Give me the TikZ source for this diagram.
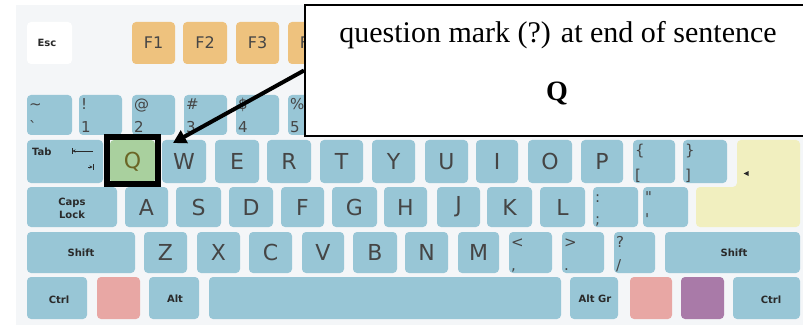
\documentclass[tikz,border=0pt]{standalone}
\usepackage{fontspec}
\newfontfamily\kfont{DejaVu Sans}
\newfontfamily\cfont{Liberation Serif}
\usetikzlibrary{arrows.meta}
\definecolor{kbbg}{HTML}{F4F6F8}
\definecolor{keyblue}{HTML}{98C6D6}
\definecolor{fkey}{HTML}{EEC27E}
\definecolor{pinkkey}{HTML}{E8A7A4}
\definecolor{purplekey}{HTML}{A97AA8}
\definecolor{yellowkey}{HTML}{F1EFBF}
\definecolor{qgreen}{HTML}{A9D09E}
\definecolor{qtext}{HTML}{6B6626}
\definecolor{keytext}{HTML}{454545}
\definecolor{keydark}{HTML}{2A2A2A}
\tikzset{
  keybox/.style={fill=keyblue, rounded corners=4pt, inner sep=0pt, outer sep=0pt},
  letterlbl/.style={font=\kfont\fontsize{22}{22}\selectfont, text=keytext, inner sep=0pt},
  duallbl/.style={font=\kfont\fontsize{15}{15}\selectfont, text=keytext, inner sep=0pt, anchor=base west},
  namelbl/.style={font=\kfont\bfseries\fontsize{10}{13}\selectfont, text=keydark, inner sep=0pt, align=center},
  flbl/.style={font=\kfont\fontsize{16}{16}\selectfont, text=keytext, inner sep=0pt},
  callouttext/.style={font=\cfont\fontsize{30}{30}\selectfont, text=black, inner sep=0pt, anchor=base},
}
\newcommand\kbkey[6]{\node[keybox,#6,minimum width={(#4)-(#2)},minimum height={(#5)-(#3)}] (#1) at ({((#2)+(#4))/2},{((#3)+(#5))/2}) {};}
\newcommand\kblet[6]{\kbkey{#1}{#2}{#3}{#4}{#5}{}\node[letterlbl] (#1-l) at (#1) {#6};}
\newcommand\kbdual[7]{\kbkey{#1}{#2}{#3}{#4}{#5}{}%
  \node[duallbl] (#1-t) at ([xshift=2pt,yshift=-15pt]#1.north west) {#6};%
  \node[duallbl] (#1-b) at ([xshift=2pt,yshift=3pt]#1.south west) {#7};}
\begin{document}
\begin{tikzpicture}[x=1pt,y=-1pt]
\useasboundingbox (0,0) rectangle (803,326);
\fill[kbbg] (16,5) rectangle (803,325);
% F row
\kbkey{kesc}{27}{22}{72}{64}{fill=white}
\node[namelbl] (kesc-l) at (47,43) {Esc};
\kbkey{kf1}{132}{22}{175}{64}{fill=fkey}\node[flbl] (kf1-l) at (kf1) {F1};
\kbkey{kf2}{183}{22}{227}{64}{fill=fkey}\node[flbl] (kf2-l) at (kf2) {F2};
\kbkey{kf3}{236}{22}{279}{64}{fill=fkey}\node[flbl] (kf3-l) at (kf3) {F3};
\kbkey{kf4}{288}{22}{331}{64}{fill=fkey}\node[flbl] (kf4-l) at (kf4) {F4};
% number row
\kbdual{kgrave}{27}{95}{72}{135}{\textasciitilde}{`}
\kbdual{k1}{79}{95}{122}{135}{!}{1}
\kbdual{k2}{132}{95}{175}{135}{@}{2}
\kbdual{k3}{184}{95}{227}{135}{\#}{3}
\kbdual{k4}{236}{95}{279}{135}{\$}{4}
\kbdual{k5}{288}{95}{331}{135}{\%}{5}
% tab row
\kbkey{ktab}{27}{140}{103}{183}{}
\node[namelbl, anchor=base west] (ktab-l) at (32,156) {Tab};
\draw[keydark, line width=0.8pt] (72,148) -- (72,154);
\draw[keydark, line width=0.8pt, -{Stealth[length=3pt,width=3pt]}] (93,151) -- (72.5,151);
\draw[keydark, line width=0.8pt] (93,164) -- (93,170);
\draw[keydark, line width=0.8pt, -{Stealth[length=3pt,width=3pt]}] (88,167) -- (92.5,167);
\kbkey{kq}{110}{140}{155}{183}{fill=qgreen}
\node[letterlbl, text=qtext] (kq-l) at (kq) {Q};
\kblet{kw}{162}{140}{206}{183}{W}
\kblet{ke}{215}{140}{259}{183}{E}
\kblet{kr}{267}{140}{311}{183}{R}
\kblet{kt}{320}{140}{363}{183}{T}
\kblet{ky}{372}{140}{415}{183}{Y}
\kblet{ku}{425}{140}{468}{183}{U}
\kblet{ki}{476}{140}{518}{183}{I}
\kblet{ko}{528}{140}{572}{183}{O}
\kblet{kp}{581}{140}{623}{183}{P}
\kbdual{klb}{633}{140}{675}{183}{\{}{[}
\kbdual{krb}{683}{140}{727}{183}{\}}{]}
\path[fill=yellowkey, rounded corners=4pt] (768,140) -- (800,140) -- (800,227) -- (696,227) -- (696,187) -- (737,187) -- (737,140) -- cycle;
\fill[keydark] (743.5,173.5) -- (748.5,171) -- (748.5,176) -- cycle;
% caps row
\kbkey{kcaps}{27}{187}{117}{227}{}
\node[namelbl] (kcaps-l) at (72,208.5) {Caps\\Lock};
\kblet{ka}{125}{187}{168}{227}{A}
\kblet{ks}{176}{187}{221}{227}{S}
\kblet{kd}{229}{187}{273}{227}{D}
\kblet{kff}{281}{187}{324}{227}{F}
\kblet{kg}{332}{187}{377}{227}{G}
\kblet{kh}{384}{187}{427}{227}{H}
\kblet{kj}{437}{187}{480}{227}{J}
\kblet{kk}{487}{187}{532}{227}{K}
\kblet{kl}{540}{187}{585}{227}{L}
\kbdual{ksemi}{593}{187}{638}{227}{:}{;}
\kbdual{kquote}{643}{187}{688}{227}{"}{'}
% shift row
\kbkey{klshift}{27}{232}{135}{273}{}
\node[namelbl] (klshift-l) at (81,253) {Shift};
\kblet{kz}{144}{232}{187}{273}{Z}
\kblet{kx}{197}{232}{240}{273}{X}
\kblet{kc}{249}{232}{292}{273}{C}
\kblet{kv}{302}{232}{344}{273}{V}
\kblet{kb}{353}{232}{397}{273}{B}
\kblet{kn}{405}{232}{448}{273}{N}
\kblet{km}{458}{232}{499}{273}{M}
\kbdual{kcomma}{509}{232}{552}{273}{<}{,}
\kbdual{kdot}{562}{232}{604}{273}{>}{.}
\kbdual{kslash}{614}{232}{655}{273}{?}{/}
\kbkey{krshift}{665}{232}{800}{273}{}
\node[namelbl] (krshift-l) at (734,253) {Shift};
% bottom row
\kbkey{klctrl}{27}{277}{87}{319}{}
\node[namelbl] (klctrl-l) at (59,300) {Ctrl};
\kbkey{klwin}{97}{277}{140}{319}{fill=pinkkey}
\kbkey{kalt}{149}{277}{199}{319}{}
\node[namelbl] (kalt-l) at (175,299) {Alt};
\kbkey{kspace}{209}{277}{561}{319}{}
\kbkey{kaltgr}{570}{277}{618}{319}{}
\node[namelbl] (kaltgr-l) at (595,299) {Alt Gr};
\kbkey{krwin}{630}{277}{672}{319}{fill=pinkkey}
\kbkey{kmenu}{681}{277}{724}{319}{fill=purplekey}
\kbkey{krctrl}{733}{277}{800}{319}{}
\node[namelbl] (krctrl-l) at (771,300) {Ctrl};
% highlight frame
\node[draw=black, line width=6pt, minimum width=51, minimum height=47, inner sep=0pt] (qframe) at (132.5,160.5) {};
% callout
\node[draw=black, line width=2pt, fill=white, minimum width=510, minimum height=131, inner sep=0pt] (callout) at (560,70.5) {};
\node[callouttext] (ctext) at (558,43) {question mark (?) at end of sentence};
\node[callouttext, font=\cfont\bfseries\fontsize{28}{28}\selectfont] (cq) at (557,101) {Q};
\coordinate (tip) at (173,143);
\draw[line width=4pt, -{Triangle[length=13pt,width=14pt]}] (callout.west) -- (tip);
\end{tikzpicture}
\end{document}
